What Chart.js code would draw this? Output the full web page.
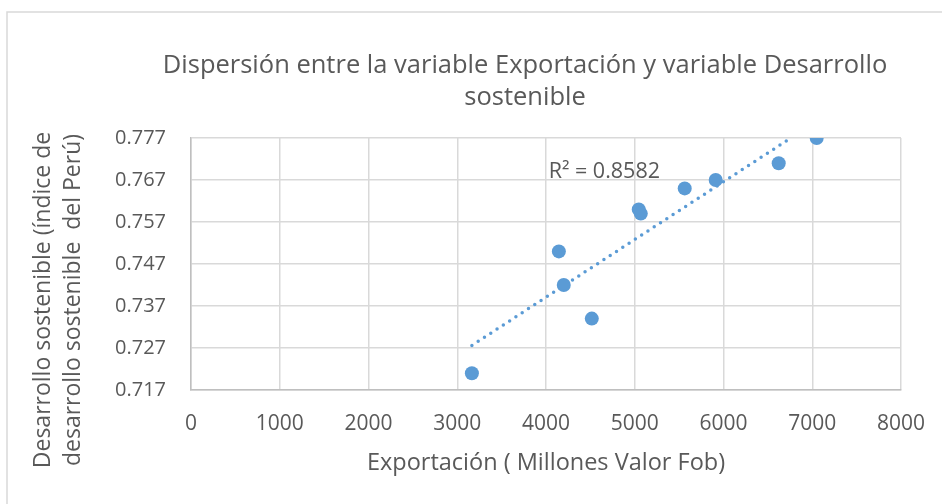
<!DOCTYPE html>
<html><head><meta charset="utf-8">
<script src="https://cdn.jsdelivr.net/npm/chart.js@4.4.0/dist/chart.umd.min.js"></script>
<style>html,body{margin:0;padding:0;background:#fff;}#wrap{width:942px;height:504px;position:relative}</style>
</head><body><div id="wrap"><canvas id="c" width="942" height="504"></canvas></div>
<script>
// ---- data ----
const titleLines = ['Dispersión entre la variable Exportación y variable Desarrollo', 'sostenible'];
const xAxisTitle = 'Exportación ( Millones Valor Fob)';
const yAxisTitleLines = ['Desarrollo sostenible (índice de', 'desarrollo sostenible  del Perú)'];
const exportValues = [3165, 4145, 4200, 4516, 5045, 5068, 5563, 5912, 6622, 7050];
const devIndexValues = [0.721, 0.750, 0.742, 0.734, 0.760, 0.759, 0.765, 0.767, 0.771, 0.777];
const xTickValues = [0, 1000, 2000, 3000, 4000, 5000, 6000, 7000, 8000];
const yTickLabels = ['0.717', '0.727', '0.737', '0.747', '0.757', '0.767', '0.777'];
const r2Label = 'R² = 0.8582';
const r2LabelAnchor = [4030, 0.7689];

// ---- style ----
const BLUE = '#5b9bd5';
const TEXT = '#595959';
const GRID = '#d9d9d9';
const SANS = '"Open Sans", sans-serif';

const yTickValues = yTickLabels.map(Number);
const xMin = xTickValues[0], xMax = xTickValues[xTickValues.length - 1];
const yMin = yTickValues[0], yMax = yTickValues[yTickValues.length - 1];

// linear least-squares trendline from the data
const n = exportValues.length;
const mx = exportValues.reduce((a, b) => a + b, 0) / n;
const my = devIndexValues.reduce((a, b) => a + b, 0) / n;
let sxy = 0, sxx = 0;
for (let i = 0; i < n; i++) { sxy += (exportValues[i] - mx) * (devIndexValues[i] - my); sxx += (exportValues[i] - mx) ** 2; }
const slope = sxy / sxx, intercept = my - slope * mx;
const tx0 = Math.min(...exportValues);
const tx1 = Math.min(Math.max(...exportValues), (yMax - intercept) / slope);
const trendPoints = [{x: tx0, y: intercept + slope * tx0}, {x: tx1, y: intercept + slope * tx1}];

const decor = {
  id: 'decor',
  afterLayout(chart) {
    const t = chart.titleBlock;
    if (t) { t.left = 108; t.right = 942; }
  },
  beforeDraw(chart) {
    const ctx = chart.ctx;
    ctx.save();
    ctx.strokeStyle = GRID; ctx.lineWidth = 1.5;
    ctx.strokeRect(7, 12, 960, 520);
    ctx.restore();
  },
  afterDraw(chart) {
    const ctx = chart.ctx;
    ctx.save();
    ctx.fillStyle = TEXT;
    ctx.font = '23px ' + SANS;
    ctx.textAlign = 'center'; ctx.textBaseline = 'middle';
    const cy = 300;
    [43, 73].forEach((x, i) => {
      ctx.save(); ctx.translate(x, cy); ctx.rotate(-Math.PI / 2);
      ctx.fillText(yAxisTitleLines[i], 0, 0); ctx.restore();
    });
    const xs = chart.scales.x, ys = chart.scales.y;
    ctx.font = '21.5px ' + SANS;
    ctx.textAlign = 'left';
    ctx.fillText(r2Label, xs.getPixelForValue(r2LabelAnchor[0]), ys.getPixelForValue(r2LabelAnchor[1]));
    ctx.restore();
  }
};

new Chart(document.getElementById('c'), {
  type: 'scatter',
  data: {
    datasets: [
      { label: 'Desarrollo sostenible', data: exportValues.map((x, i) => ({x, y: devIndexValues[i]})),
        backgroundColor: BLUE, borderColor: BLUE, pointRadius: 7, pointHoverRadius: 7, borderWidth: 0 },
      { label: 'Lineal', data: trendPoints, showLine: true, pointRadius: 0, borderColor: BLUE,
        borderWidth: 3.5, borderDash: [0, 7.5], borderCapStyle: 'round', fill: false }
    ]
  },
  options: {
    responsive: false, animation: false, devicePixelRatio: 1,
    layout: { padding: { left: 0, right: 41, top: 0, bottom: 0 } },
    plugins: {
      legend: { display: false }, tooltip: { enabled: false },
      title: { display: true, text: titleLines, color: TEXT,
        font: { family: SANS, size: 25.5, weight: 'normal', lineHeight: 32 / 25.5 },
        padding: { top: 50, bottom: 24 } }
    },
    scales: {
      x: { type: 'linear', min: xMin, max: xMax,
        afterBuildTicks: s => { s.ticks = xTickValues.map(v => ({value: v})); },
        afterFit: s => { s.height = 114; s.paddingLeft = 0; s.paddingRight = 0; },
        grid: { color: GRID, lineWidth: 1.5, drawTicks: false },
        border: { color: '#bfbfbf', width: 1.5 },
        ticks: { color: TEXT, padding: 21, maxRotation: 0, font: { family: SANS, size: 21 }, callback: v => String(v) },
        title: { display: true, text: xAxisTitle, color: TEXT, font: { family: SANS, size: 23.5 }, padding: { top: 0, bottom: 27 } }
      },
      y: { type: 'linear', min: yMin, max: yMax,
        afterBuildTicks: s => { s.ticks = yTickValues.map(v => ({value: v})); },
        afterFit: s => { s.width = 191; },
        grid: { color: GRID, lineWidth: 1.5, drawTicks: false },
        border: { color: '#bfbfbf', width: 1.5 },
        ticks: { color: TEXT, padding: 25, font: { family: SANS, size: 20 },
          callback: (v) => { const i = yTickValues.indexOf(v); return i >= 0 ? yTickLabels[i] : v.toFixed(3); } }
      }
    }
  },
  plugins: [decor]
});
</script></body></html>
